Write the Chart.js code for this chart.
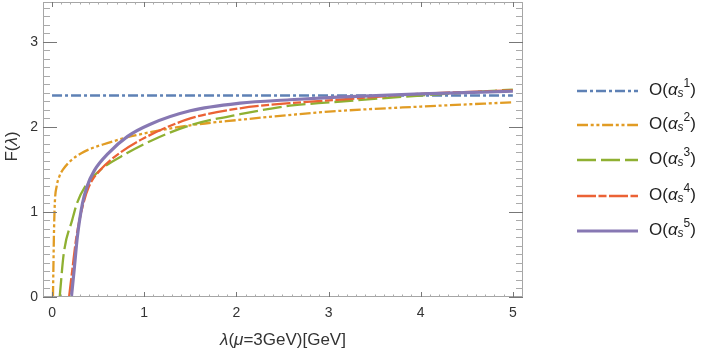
<!DOCTYPE html>
<html>
<head>
<meta charset="utf-8" />
<script src="https://cdn.jsdelivr.net/npm/chart.js"></script>
<style>
  html, body { margin: 0; padding: 0; background: #fff; }
  #wrap { width: 708px; height: 351px; }
</style>
</head>
<body>
<div id="wrap"><canvas id="chart"></canvas></div>
<script>
// tick labels
const xTicks = [0, 1, 2, 3, 4, 5];
const yTicks = [0, 1, 2, 3];

// series
const o1X = [0, 5];
const o1Y = [2.37, 2.37];
const o2X = [0.01, 0.015, 0.02, 0.03, 0.05, 0.08, 0.12, 0.2, 0.35, 0.6, 0.9, 1.5, 2, 3, 4, 5];
const o2Y = [0, 0.35, 0.7, 1.1, 1.3, 1.42, 1.5, 1.6, 1.71, 1.81, 1.9, 2.02, 2.08, 2.18, 2.24, 2.29];
const o3X = [0.083, 0.127, 0.22, 0.27, 0.36, 0.52, 0.81, 1.1, 1.5, 2.04, 2.58, 3.02, 4, 5];
const o3Y = [0, 0.51, 0.91, 1.1, 1.3, 1.49, 1.69, 1.85, 2.02, 2.15, 2.25, 2.29, 2.37, 2.44];
const o4X = [0.185, 0.22, 0.265, 0.34, 0.4, 0.52, 0.73, 1.0, 1.5, 2.04, 2.58, 3.1, 4, 5];
const o4Y = [0, 0.32, 0.71, 1.1, 1.3, 1.49, 1.69, 1.87, 2.1, 2.22, 2.28, 2.32, 2.39, 2.43];
const o5X = [0.21, 0.24, 0.275, 0.33, 0.38, 0.46, 0.61, 0.82, 1.06, 1.5, 2.04, 2.58, 3.1, 4, 5];
const o5Y = [0, 0.32, 0.71, 1.1, 1.3, 1.49, 1.69, 1.89, 2.03, 2.19, 2.28, 2.32, 2.35, 2.39, 2.42];
const orders = ["1", "2", "3", "4", "5"];

const FONT = "'Liberation Sans', Arial, sans-serif";
const colors = ["#5E81B5", "#E19C24", "#8FB032", "#EB6235", "#8778B3"];
const dashes = [[10, 3, 3, 3], [11, 2.7, 3, 2.7, 3, 2.7], [19, 5], [19, 2.5, 8, 2.5], []];
const widths = [2.3, 2.3, 2.3, 2.3, 3.2];

const toPts = (xs, ys) => xs.map((x, i) => ({ x, y: ys[i] }));
const allSeries = [toPts(o1X, o1Y), toPts(o2X, o2Y), toPts(o3X, o3Y), toPts(o4X, o4Y), toPts(o5X, o5Y)];

// draws a run of text pieces (italic / sub / sup) starting at x
function drawRich(ctx, x, y, parts, align) {
  const widthOf = (p) => { ctx.font = (p.italic ? "italic " : "") + p.size + "px " + FONT; return ctx.measureText(p.t).width; };
  let total = 0;
  parts.forEach((p) => { total += widthOf(p); });
  let cx = align === "center" ? x - total / 2 : x;
  parts.forEach((p) => {
    const w = widthOf(p);
    ctx.fillText(p.t, cx, y + (p.dy || 0));
    cx += w;
  });
}

const decorPlugin = {
  id: "decor",
  afterDraw(chart) {
    const ctx = chart.ctx;
    const { left, right, top, bottom } = chart.chartArea;
    const xs = chart.scales.x, ys = chart.scales.y;
    ctx.save();
    // frame
    ctx.strokeStyle = "#a6a6a6";
    ctx.lineWidth = 1;
    ctx.strokeRect(left + 0.5, top + 0.5, right - left - 1, bottom - top - 1);
    // x ticks, top and bottom
    for (let i = 0; i <= 51; i++) {
      const v = i / 10;
      const px = Math.round(xs.getPixelForValue(v)) + 0.5;
      const major = i % 10 === 0;
      const len = major ? 5 : 2.5;
      ctx.strokeStyle = major ? "#777" : "#aaa";
      ctx.beginPath();
      ctx.moveTo(px, bottom); ctx.lineTo(px, bottom - len);
      ctx.moveTo(px, top); ctx.lineTo(px, top + len);
      ctx.stroke();
    }
    // y ticks, left and right
    for (let i = 0; i <= 34; i++) {
      const v = i / 10;
      const py = Math.round(ys.getPixelForValue(v)) + 0.5;
      const major = i % 10 === 0;
      const len = major ? 14 : 7;
      ctx.strokeStyle = major ? "#777" : "#aaa";
      ctx.beginPath();
      ctx.moveTo(left, py); ctx.lineTo(left + len, py);
      ctx.moveTo(right, py); ctx.lineTo(right - len, py);
      ctx.stroke();
    }
    ctx.fillStyle = "#333";
    ctx.textBaseline = "middle";
    // axis titles
    drawRich(ctx, (left + right) / 2, 340, [
      { t: "λ", italic: true, size: 17 },
      { t: "(", size: 17 },
      { t: "μ", italic: true, size: 17 },
      { t: "=3GeV)[GeV]", size: 17 }
    ], "center");
    ctx.save();
    ctx.translate(12, (top + bottom) / 2 - 3);
    ctx.rotate(-Math.PI / 2);
    drawRich(ctx, 0, 0, [
      { t: "F(", size: 17 },
      { t: "λ", italic: true, size: 17 },
      { t: ")", size: 17 }
    ], "center");
    ctx.restore();
    // legend
    const legendY = [91, 125, 160, 196, 231];
    orders.forEach((n, i) => {
      const y = legendY[i];
      ctx.strokeStyle = colors[i];
      ctx.lineWidth = widths[i];
      ctx.setLineDash(dashes[i]);
      ctx.beginPath();
      ctx.moveTo(577, y); ctx.lineTo(638, y);
      ctx.stroke();
      ctx.setLineDash([]);
      ctx.fillStyle = "#222";
      drawRich(ctx, 649, y - 1, [
        { t: "O(", size: 17 },
        { t: "α", italic: true, size: 17 },
        { t: "s", italic: true, size: 12, dy: 4 },
        { t: n, size: 12, dy: -6 },
        { t: ")", size: 17 }
      ], "left");
    });
    ctx.restore();
  }
};

new Chart(document.getElementById("chart"), {
  type: "line",
  data: {
    datasets: allSeries.map((pts, i) => ({
      label: "O(αs" + orders[i] + ")",
      data: pts,
      borderColor: colors[i],
      borderWidth: widths[i],
      borderDash: dashes[i],
      borderCapStyle: "butt",
      pointRadius: 0,
      fill: false,
      cubicInterpolationMode: "monotone"
    })).reverse()
  },
  options: {
    responsive: true,
    maintainAspectRatio: false,
    animation: false,
    layout: { padding: { left: 0, right: 185, top: 2, bottom: 0 } },
    plugins: { legend: { display: false }, tooltip: { enabled: false } },
    scales: {
      x: {
        type: "linear",
        min: -0.098,
        max: 5.11,
        afterBuildTicks: (axis) => { axis.ticks = xTicks.map((v) => ({ value: v })); },
        afterFit: (axis) => { axis.height = 54; axis.paddingLeft = 0; axis.paddingRight = 0; },
        grid: { display: false, drawTicks: false },
        border: { display: false },
        ticks: { color: "#333", font: { family: FONT, size: 14 }, padding: 8, maxRotation: 0, autoSkip: false }
      },
      y: {
        type: "linear",
        min: 0,
        max: 3.47,
        afterBuildTicks: (axis) => { axis.ticks = yTicks.map((v) => ({ value: v })); },
        afterFit: (axis) => { axis.width = 43; axis.paddingTop = 0; axis.paddingBottom = 0; },
        grid: { display: false, drawTicks: false },
        border: { display: false },
        ticks: { color: "#333", font: { family: FONT, size: 14 }, padding: 5 }
      }
    }
  },
  plugins: [decorPlugin]
});
</script>
</body>
</html>
